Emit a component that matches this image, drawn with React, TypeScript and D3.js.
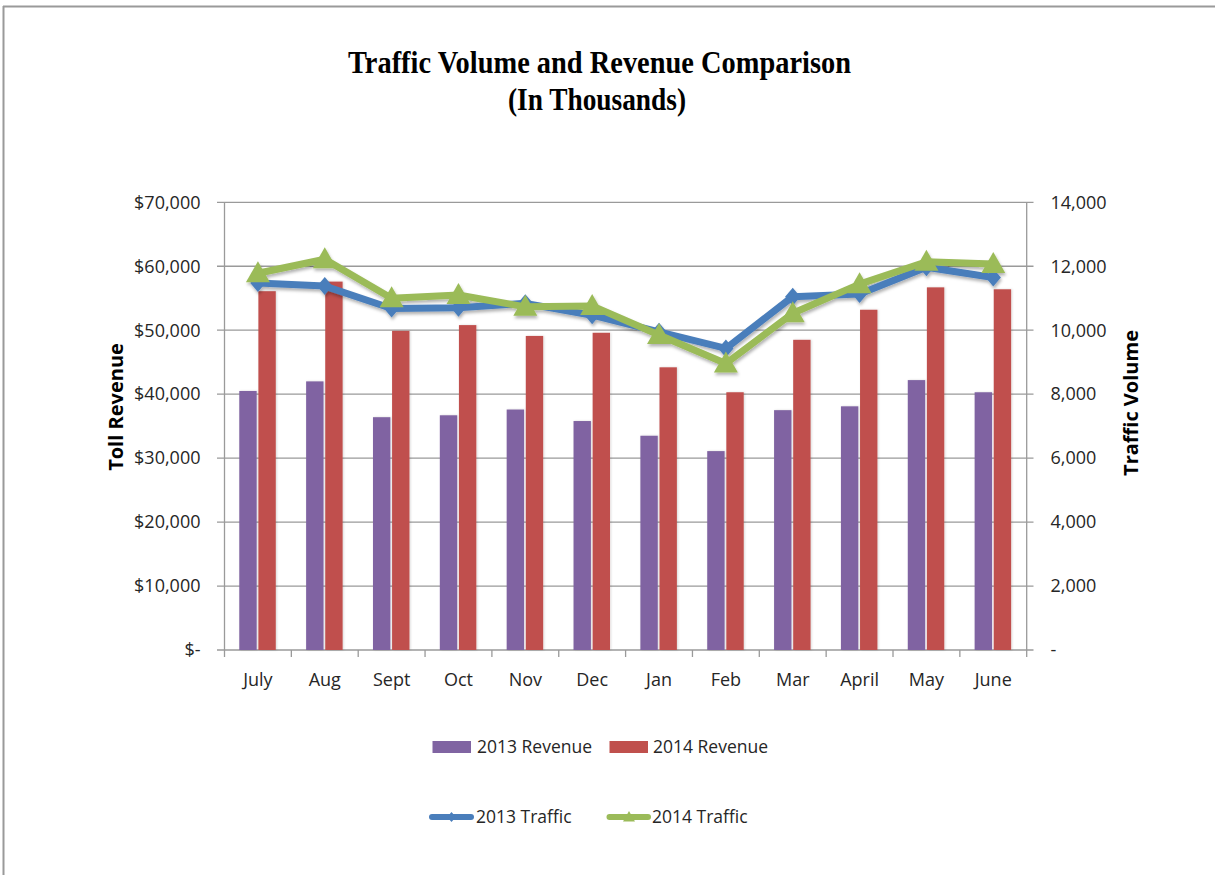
import React from 'react';
import * as d3 from 'd3';

const months = ['July', 'Aug', 'Sept', 'Oct', 'Nov', 'Dec', 'Jan', 'Feb', 'Mar', 'April', 'May', 'June'];
const revenue2013 = [40500, 42000, 36400, 36700, 37600, 35800, 33500, 31100, 37500, 38100, 42200, 40300];
const revenue2014 = [56100, 57600, 49900, 50800, 49100, 49600, 44200, 40300, 48500, 53200, 56700, 56400];
const traffic2013 = [11480, 11380, 10680, 10700, 10840, 10470, 9950, 9430, 11050, 11130, 11970, 11650];
const traffic2014 = [11780, 12220, 11000, 11100, 10730, 10760, 9850, 8960, 10530, 11440, 12140, 12070];
const revenueTicks = [0, 10000, 20000, 30000, 40000, 50000, 60000, 70000];
const trafficTicks = [0, 2000, 4000, 6000, 8000, 10000, 12000, 14000];

const W = 1215;
const H = 875;
const FONT = "'Open Sans', 'Noto Sans', sans-serif";
const PURPLE = '#8064A2';
const RED = '#C0504D';
const BLUE = '#4A7EBB';
const GREEN = '#9BBB59';
const GRID = '#9a9a9a';

export default function App() {
  const left = 224.5;
  const right = 1026.7;
  const top = 202.3;
  const bottom = 650;

  const x = d3.scaleBand<string>().domain(months).range([left, right]).padding(0);
  const bw = x.bandwidth();
  const sub = d3
    .scaleBand<string>()
    .domain(['2013', '2014'])
    .range([bw * 0.221, bw * 0.767])
    .paddingInner(0.09);
  const yL = d3.scaleLinear().domain([0, 70000]).range([bottom, top]);
  const yR = d3.scaleLinear().domain([0, 14000]).range([bottom, top]);
  const cx = (m: string) => (x(m) as number) + bw / 2;

  const line = d3
    .line<number>()
    .x((_, i) => cx(months[i]))
    .y((d) => yR(d));

  const diamond = (px: number, py: number, s = 9) =>
    `M${px},${py - s}L${px + s * 0.85},${py}L${px},${py + s}L${px - s * 0.85},${py}Z`;
  const triangle = (px: number, py: number, s = 12) =>
    `M${px},${py - s}L${px + s},${py + s * 0.75}L${px - s},${py + s * 0.75}Z`;

  const fmtL = (d: number) => (d === 0 ? '$-' : '$' + d3.format(',')(d));
  const fmtR = (d: number) => (d === 0 ? '-' : d3.format(',')(d));

  return (
    <svg
      width={W}
      height={H}
      style={{ position: 'absolute', left: 0, top: 0, display: 'block', background: '#fff' }}
    >
      <defs>
        <filter id="shadow" x="-20%" y="-20%" width="140%" height="160%">
          <feDropShadow dx="1" dy="2.5" stdDeviation="1.5" floodColor="#000" floodOpacity="0.3" />
        </filter>
        <filter id="barShadow" x="-20%" y="-5%" width="140%" height="110%">
          <feDropShadow dx="1" dy="0" stdDeviation="1" floodColor="#000" floodOpacity="0.15" />
        </filter>
      </defs>

      {/* frame, only top and left edges are visible */}
      <line x1={3} x2={W} y1={6.5} y2={6.5} stroke="#9a9a9a" strokeWidth={2} />
      <line x1={3.5} x2={3.5} y1={6} y2={H} stroke="#9a9a9a" strokeWidth={2} />

      <text
        x={599.5}
        y={73}
        textAnchor="middle"
        fontFamily="'Liberation Serif', 'Times New Roman', serif"
        fontWeight="bold"
        fontSize={31}
        textLength={503}
        lengthAdjust="spacingAndGlyphs"
        fill="#000"
      >
        Traffic Volume and Revenue Comparison
      </text>
      <text
        x={597}
        y={110}
        textAnchor="middle"
        fontFamily="'Liberation Serif', 'Times New Roman', serif"
        fontWeight="bold"
        fontSize={31}
        textLength={178}
        lengthAdjust="spacingAndGlyphs"
        fill="#000"
      >
        (In Thousands)
      </text>

      {/* gridlines and value-axis ticks */}
      {revenueTicks.map((t) => (
        <g key={t}>
          <line x1={217} x2={1033.5} y1={yL(t)} y2={yL(t)} stroke={GRID} strokeWidth={1.3} />
          <text
            x={200.5}
            y={yL(t)}
            dy="0.35em"
            textAnchor="end"
            fontFamily={FONT}
            fontSize={18}
            fill="#262626"
          >
            {fmtL(t)}
          </text>
        </g>
      ))}
      {trafficTicks.map((t) => (
        <text
          key={t}
          x={1050.5}
          y={yR(t)}
          dy="0.35em"
          fontFamily={FONT}
          fontSize={18}
          fill="#262626"
        >
          {fmtR(t)}
        </text>
      ))}
      <line x1={left} x2={left} y1={top} y2={bottom} stroke={GRID} strokeWidth={1.3} />
      <line x1={right} x2={right} y1={top} y2={bottom + 7} stroke={GRID} strokeWidth={1.3} />

      {/* category ticks and labels */}
      {months.map((m) => (
        <g key={m}>
          <line
            x1={x(m) as number}
            x2={x(m) as number}
            y1={bottom}
            y2={bottom + 7}
            stroke={GRID}
            strokeWidth={1.3}
          />
          <text
            x={cx(m)}
            y={686}
            textAnchor="middle"
            fontFamily={FONT}
            fontSize={18}
            fill="#262626"
          >
            {m}
          </text>
        </g>
      ))}

      {/* bars */}
      <g filter="url(#barShadow)">
        {months.map((m, i) => (
          <g key={m}>
            <rect
              x={(x(m) as number) + (sub('2013') as number)}
              y={yL(revenue2013[i])}
              width={sub.bandwidth()}
              height={bottom - yL(revenue2013[i])}
              fill={PURPLE}
            />
            <rect
              x={(x(m) as number) + (sub('2014') as number)}
              y={yL(revenue2014[i])}
              width={sub.bandwidth()}
              height={bottom - yL(revenue2014[i])}
              fill={RED}
            />
          </g>
        ))}
      </g>

      {/* traffic lines */}
      <g filter="url(#shadow)">
        <path d={line(traffic2013) as string} fill="none" stroke={BLUE} strokeWidth={7} strokeLinejoin="round" />
        {traffic2013.map((v, i) => (
          <path key={i} d={diamond(cx(months[i]), yR(v))} fill={BLUE} />
        ))}
        <path d={line(traffic2014) as string} fill="none" stroke={GREEN} strokeWidth={7} strokeLinejoin="round" />
        {traffic2014.map((v, i) => (
          <path key={i} d={triangle(cx(months[i]), yR(v))} fill={GREEN} />
        ))}
      </g>

      {/* axis titles */}
      <text
        transform={`translate(123,407) rotate(-90)`}
        textAnchor="middle"
        fontFamily={FONT}
        fontWeight="bold"
        fontSize={20}
        fill="#000"
      >
        Toll Revenue
      </text>
      <text
        transform={`translate(1138,403) rotate(-90)`}
        textAnchor="middle"
        fontFamily={FONT}
        fontWeight="bold"
        fontSize={20}
        fill="#000"
      >
        Traffic Volume
      </text>

      {/* legend */}
      <g fontFamily={FONT} fontSize={17.5} fill="#262626">
        <rect x={432.5} y={741} width={38.5} height={12} fill={PURPLE} />
        <text x={477} y={747} dy="0.35em">2013 Revenue</text>
        <rect x={609.5} y={741} width={38.5} height={12} fill={RED} />
        <text x={653} y={747} dy="0.35em">2014 Revenue</text>

        <line x1={432} x2={471} y1={817} y2={817} stroke={BLUE} strokeWidth={6} strokeLinecap="round" />
        <path d={diamond(451.5, 817, 5)} fill={BLUE} />
        <text x={476} y={817} dy="0.35em">2013 Traffic</text>
        <line x1={609.5} x2={648} y1={817} y2={817} stroke={GREEN} strokeWidth={6} strokeLinecap="round" />
        <path d={triangle(629, 817, 6)} fill={GREEN} />
        <text x={652} y={817} dy="0.35em">2014 Traffic</text>
      </g>
    </svg>
  );
}
